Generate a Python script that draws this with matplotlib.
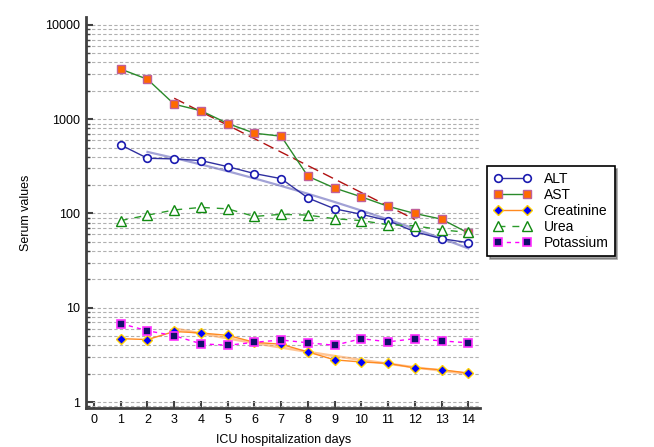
import numpy as np
import matplotlib

matplotlib.use("Agg")

import matplotlib.pyplot as plt
from matplotlib.ticker import LogLocator, FixedLocator, NullFormatter


days = [1, 2, 3, 4, 5, 6, 7, 8, 9, 10, 11, 12, 13, 14]

alt = [533, 385, 379, 364, 314, 265, 234, 146, 112, 98, 84, 64, 54, 49]
ast = [3400, 2650, 1440, 1230, 900, 710, 660, 248, 186, 150, 119, 100, 87, 62]
creatinine = [4.7, 4.6, 5.6, 5.4, 5.1, 4.3, 4.1, 3.4, 2.8, 2.66, 2.57, 2.3, 2.2, 2.03]
urea = [84, 96, 109, 116, 112, 93, 98, 96, 88, 84, 76, 74, 67, 63]
potassium = [6.8, 5.7, 5.05, 4.15, 4.0, 4.3, 4.55, 4.25, 4.0, 4.7, 4.35, 4.7, 4.45, 4.25]

x_ticks = list(range(0, 15))
y_ticks = [1, 10, 100, 1000, 10000]


def log_fit(x, y, degree):

    coef = np.polyfit(
        x,
        np.log10(y),
        degree
    )

    return 10 ** np.polyval(coef, x)


def make_plot():

    plt.rcParams["font.family"] = ["Liberation Sans", "DejaVu Sans"]

    fig = plt.figure(
        figsize=(6.54, 4.47),
        dpi=100
    )

    ax = fig.add_axes([0.1315, 0.0872, 0.603, 0.875])

    ax.set_yscale("log")

    ax.set_xlim(-0.3, 14.45)
    ax.set_ylim(0.864, 12160)

    # horizontal dashed grid on every decade and sub-decade
    ax.yaxis.set_major_locator(FixedLocator(y_ticks))
    ax.yaxis.set_minor_locator(
        LogLocator(base=10, subs=np.arange(2, 10))
    )
    ax.yaxis.set_minor_formatter(NullFormatter())
    ax.set_yticklabels([str(v) for v in y_ticks])

    ax.grid(
        True,
        which="both",
        axis="y",
        color="#b0b0b0",
        linestyle=(0, (3, 2)),
        linewidth=0.8
    )
    ax.set_axisbelow(True)

    ax.set_xticks(x_ticks)

    d = np.array(days)

    # faint duplicate / trend lines seen in the original
    ax.plot(
        d[1:],
        log_fit(d[1:], alt[1:], 2),
        color="#7070c0",
        linewidth=1.6,
        alpha=0.65,
        zorder=2
    )

    ax.plot(
        d[2:12],
        log_fit(d[2:12], ast[2:12], 1),
        color="#b01010",
        linewidth=1.0,
        linestyle=(0, (8, 4)),
        zorder=2
    )

    ax.plot(
        d[2:],
        log_fit(d[2:], creatinine[2:], 2),
        color="#ffa050",
        linewidth=1.8,
        alpha=0.6,
        zorder=2
    )

    ax.plot(
        days,
        alt,
        color="#3030a0",
        linewidth=1.0,
        marker="o",
        markersize=5.5,
        markerfacecolor="white",
        markeredgecolor="#1a1ab0",
        markeredgewidth=1.2,
        label="ALT",
        zorder=3
    )

    ax.plot(
        days,
        ast,
        color="#2a8a2a",
        linewidth=1.0,
        marker="s",
        markersize=6,
        markerfacecolor="#ff6a00",
        markeredgecolor="#c0609a",
        markeredgewidth=1.0,
        label="AST",
        zorder=3
    )

    ax.plot(
        days,
        creatinine,
        color="#ff8a20",
        linewidth=1.0,
        marker="D",
        markersize=5,
        markerfacecolor="#0000ff",
        markeredgecolor="#ffd000",
        markeredgewidth=1.0,
        label="Creatinine",
        zorder=3
    )

    ax.plot(
        days,
        urea,
        color="#2a9a2a",
        linewidth=1.0,
        linestyle=(0, (5, 5)),
        marker="^",
        markersize=7,
        markerfacecolor="white",
        markeredgecolor="#108a10",
        markeredgewidth=1.0,
        label="Urea",
        zorder=3
    )

    ax.plot(
        days,
        potassium,
        color="#ff00ff",
        linewidth=1.0,
        linestyle=(0, (3, 3)),
        marker="s",
        markersize=6,
        markerfacecolor="#10106a",
        markeredgecolor="#ff30ff",
        markeredgewidth=1.2,
        label="Potassium",
        zorder=4
    )

    for side in ["top", "right"]:
        ax.spines[side].set_visible(False)

    for side in ["left", "bottom"]:
        ax.spines[side].set_color("#404040")
        ax.spines[side].set_linewidth(2.0)

    ax.tick_params(
        axis="both",
        which="major",
        direction="in",
        length=5,
        width=1.5,
        color="#404040",
        labelsize=9,
        pad=4
    )
    ax.tick_params(
        axis="y",
        which="minor",
        direction="in",
        length=3,
        width=1.0,
        color="#404040"
    )

    ax.set_ylabel(
        "Serum values",
        fontsize=9,
        labelpad=10
    )
    ax.set_xlabel(
        "ICU hospitalization days",
        fontsize=9,
        labelpad=6
    )

    leg = ax.legend(
        loc="upper left",
        bbox_to_anchor=(1.0, 0.637),
        fontsize=10,
        numpoints=2,
        frameon=True,
        fancybox=False,
        shadow=True,
        handlelength=2.7,
        handletextpad=0.9,
        borderpad=0.45,
        labelspacing=0.14
    )
    leg.get_frame().set_edgecolor("black")
    leg.get_frame().set_linewidth(1.2)

    fig.savefig("out.png", dpi=100)

    plt.close(fig)


if __name__ == "__main__":

    make_plot()
